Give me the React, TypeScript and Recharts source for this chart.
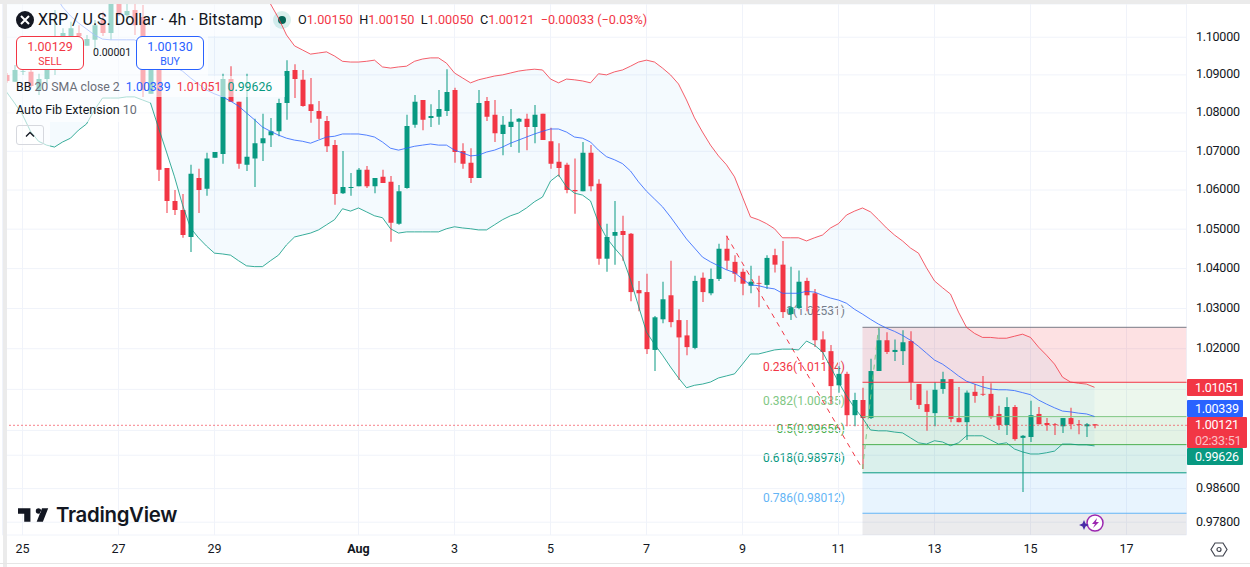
import React from 'react'
import {
  ComposedChart,
  Bar,
  Line,
  Area,
  XAxis,
  YAxis,
  CartesianGrid,
  Cell,
  ReferenceArea,
  ReferenceLine,
} from 'recharts'

const FONT = 'Roboto, "Noto Sans", sans-serif'
const RED = '#f23645'
const GREEN = '#089981'
const BLUE = '#2962ff'

const opens = [
  1.0900,1.0882,1.0908,1.0908,1.0860,1.0889,1.0939,1.0993,1.0998,1.1011,
  1.0977,1.0993,1.1046,1.1011,1.1111,1.1059,1.1073,1.1054,1.0850,1.0939,
  1.0657,1.0572,1.0549,1.0480,1.0631,1.0603,1.0683,1.0693,1.0889,1.0829,
  1.0665,1.0681,1.0721,1.0742,1.0752,1.0826,1.0913,1.0887,1.0823,1.0805,
  1.0779,1.0716,1.0592,1.0605,1.0610,1.0652,1.0610,1.0634,1.0621,1.0514,
  1.0605,1.0769,1.0834,1.0787,1.0790,1.0805,1.0860,1.0701,1.0670,1.0631,
  1.0831,1.0795,1.0745,1.0763,1.0777,1.0785,1.0763,1.0798,1.0726,1.0673,
  1.0665,1.0600,1.0597,1.0696,1.0616,1.0425,1.0483,1.0495,1.0488,1.0346,
  1.0341,1.0197,1.0273,1.0333,1.0271,1.0233,1.0202,1.0377,1.0338,1.0374,
  1.0450,1.0417,1.0392,1.0357,1.0364,1.0359,1.0434,1.0410,1.0286,1.0301,
  1.0369,1.0338,1.0223,1.0194,1.0110,1.0138,1.0037,1.0074,1.0030,1.0145,
  1.0221,1.0192,1.0194,1.0219,1.0113,1.0064,1.0042,1.0101,1.0125,1.0030,
  1.0020,1.0094,1.0089,1.0089,1.0040,1.0013,1.0057,0.9982,0.9984,1.0040,
  1.0018,1.0015,1.0010,1.0030,1.0015,1.0010,1.0015,
]
const highs = [
  1.0905,1.0926,1.0913,1.0913,1.0903,1.0939,1.1073,1.1024,1.1041,1.1032,
  1.1006,1.1046,1.1068,1.1105,1.1127,1.1089,1.1100,1.1086,1.0966,1.0961,
  1.0657,1.0600,1.0590,1.0665,1.0655,1.0696,1.0698,1.0903,1.0923,1.0829,
  1.0903,1.0785,1.0798,1.0787,1.0837,1.0939,1.0928,1.0913,1.0892,1.0831,
  1.0792,1.0729,1.0701,1.0644,1.0657,1.0662,1.0631,1.0652,1.0636,1.0613,
  1.0795,1.0847,1.0834,1.0823,1.0860,1.0915,1.0866,1.0721,1.0708,1.0860,
  1.0842,1.0834,1.0792,1.0810,1.0787,1.0798,1.0821,1.0798,1.0761,1.0721,
  1.0670,1.0681,1.0724,1.0716,1.0628,1.0514,1.0572,1.0534,1.0490,1.0369,
  1.0387,1.0281,1.0367,1.0420,1.0298,1.0271,1.0382,1.0390,1.0400,1.0463,
  1.0483,1.0434,1.0400,1.0407,1.0382,1.0434,1.0450,1.0470,1.0405,1.0395,
  1.0377,1.0349,1.0243,1.0209,1.0157,1.0143,1.0092,1.0104,1.0175,1.0251,
  1.0241,1.0223,1.0246,1.0243,1.0113,1.0097,1.0118,1.0143,1.0125,1.0106,
  1.0097,1.0113,1.0133,1.0115,1.0060,1.0081,1.0062,0.9989,1.0072,1.0057,
  1.0030,1.0018,1.0030,1.0055,1.0025,1.0018,1.0015,
]
const lows = [
  1.0879,1.0882,1.0900,1.0866,1.0847,1.0874,1.0900,1.0971,1.0988,1.0985,
  1.0977,1.0966,1.1003,1.0993,1.1057,1.1046,1.1006,1.0842,1.0850,1.0623,
  1.0541,1.0536,1.0478,1.0442,1.0541,1.0585,1.0683,1.0668,1.0829,1.0655,
  1.0649,1.0608,1.0675,1.0711,1.0739,1.0782,1.0839,1.0816,1.0774,1.0732,
  1.0698,1.0562,1.0590,1.0585,1.0610,1.0605,1.0592,1.0618,1.0468,1.0511,
  1.0603,1.0761,1.0755,1.0763,1.0769,1.0792,1.0670,1.0655,1.0618,1.0631,
  1.0779,1.0724,1.0690,1.0711,1.0696,1.0703,1.0721,1.0729,1.0655,1.0634,
  1.0592,1.0539,1.0597,1.0597,1.0410,1.0392,1.0410,1.0420,1.0318,1.0293,
  1.0187,1.0145,1.0263,1.0253,1.0123,1.0184,1.0199,1.0316,1.0333,1.0369,
  1.0397,1.0367,1.0333,1.0338,1.0303,1.0349,1.0390,1.0276,1.0271,1.0298,
  1.0293,1.0204,1.0172,1.0064,1.0092,1.0010,1.0010,0.9907,1.0028,1.0145,
  1.0187,1.0170,1.0160,1.0074,1.0052,0.9999,1.0010,1.0089,1.0020,1.0020,
  0.9977,1.0067,1.0084,1.0028,1.0001,0.9989,0.9975,0.9852,0.9972,1.0015,
  0.9999,0.9989,0.9994,1.0003,0.9991,0.9984,1.0005,
]
const closes = [
  1.0884,1.0913,1.0910,1.0871,1.0889,1.0913,1.0998,1.1011,1.1024,1.1003,
  1.0995,1.1032,1.1011,1.1089,1.1062,1.1070,1.1032,1.0860,1.0939,1.0652,
  1.0572,1.0549,1.0485,1.0642,1.0600,1.0681,1.0698,1.0889,1.0829,1.0668,
  1.0686,1.0721,1.0734,1.0752,1.0826,1.0910,1.0889,1.0818,1.0805,1.0785,
  1.0713,1.0590,1.0608,1.0608,1.0652,1.0610,1.0631,1.0618,1.0516,1.0597,
  1.0766,1.0829,1.0782,1.0792,1.0810,1.0855,1.0698,1.0668,1.0631,1.0826,
  1.0790,1.0747,1.0769,1.0777,1.0785,1.0763,1.0795,1.0729,1.0668,1.0657,
  1.0600,1.0597,1.0696,1.0610,1.0425,1.0480,1.0493,1.0485,1.0341,1.0338,
  1.0199,1.0278,1.0323,1.0266,1.0228,1.0204,1.0369,1.0341,1.0374,1.0450,
  1.0420,1.0387,1.0362,1.0367,1.0362,1.0427,1.0410,1.0291,1.0303,1.0367,
  1.0333,1.0221,1.0192,1.0108,1.0138,1.0037,1.0074,1.0030,1.0145,1.0221,
  1.0192,1.0197,1.0216,1.0118,1.0062,1.0045,1.0099,1.0125,1.0028,1.0020,
  1.0092,1.0084,1.0087,1.0032,1.0013,1.0057,0.9979,0.9987,1.0037,1.0015,
  1.0013,1.0013,1.0030,1.0015,1.0013,1.0015,1.00121,
]

// bollinger bands, the first ones run above the top of the pane
const bbUpper = [
  1.1249,1.1262,1.1268,1.1268,1.1268,1.1262,1.1262,1.1268,1.1276,1.1284,
  1.1290,1.1290,1.1295,1.1303,1.1312,1.1317,1.1317,1.1312,1.1312,1.1303,
  1.1295,1.1290,1.1284,1.1276,1.1262,1.1249,1.1235,1.1222,1.1208,1.1186,
  1.1168,1.1141,1.1113,1.1089,1.1051,1.1006,1.0977,1.0966,1.0955,1.0958,
  1.0961,1.0950,1.0936,1.0934,1.0934,1.0936,1.0939,1.0921,1.0918,1.0921,
  1.0923,1.0936,1.0942,1.0945,1.0945,1.0931,1.0905,1.0892,1.0879,1.0887,
  1.0892,1.0897,1.0900,1.0905,1.0910,1.0913,1.0915,1.0913,1.0889,1.0879,
  1.0889,1.0887,1.0884,1.0879,1.0903,1.0900,1.0908,1.0913,1.0923,1.0934,
  1.0939,1.0934,1.0918,1.0900,1.0876,1.0834,1.0787,1.0750,1.0716,1.0688,
  1.0665,1.0634,1.0582,1.0531,1.0524,1.0514,1.0501,1.0478,1.0478,1.0478,
  1.0470,1.0478,1.0485,1.0503,1.0514,1.0536,1.0546,1.0554,1.0544,1.0524,
  1.0503,1.0485,1.0470,1.0452,1.0439,1.0402,1.0369,1.0352,1.0336,1.0291,
  1.0253,1.0238,1.0228,1.0228,1.0226,1.0226,1.0231,1.0236,1.0228,1.0204,
  1.0184,1.0162,1.0130,1.0118,1.0115,1.0113,1.01051,
]
const bbMiddle = [
  1.1208,1.1203,1.1195,1.1186,1.1175,1.1148,1.1116,1.1081,1.1057,1.1038,
  1.1022,1.1006,1.0995,1.0993,1.0993,1.0993,1.0993,1.0982,1.0966,1.0950,
  1.0934,1.0921,1.0910,1.0892,1.0876,1.0860,1.0850,1.0842,1.0831,1.0818,
  1.0800,1.0782,1.0763,1.0752,1.0742,1.0734,1.0729,1.0726,1.0721,1.0729,
  1.0737,1.0739,1.0745,1.0745,1.0745,1.0742,1.0737,1.0724,1.0708,1.0703,
  1.0708,1.0713,1.0716,1.0719,1.0716,1.0716,1.0703,1.0696,1.0688,1.0690,
  1.0698,1.0703,1.0711,1.0721,1.0729,1.0737,1.0745,1.0752,1.0758,1.0758,
  1.0750,1.0737,1.0734,1.0724,1.0703,1.0686,1.0678,1.0668,1.0649,1.0621,
  1.0597,1.0577,1.0557,1.0531,1.0503,1.0475,1.0452,1.0429,1.0417,1.0407,
  1.0397,1.0390,1.0374,1.0359,1.0357,1.0352,1.0349,1.0338,1.0338,1.0338,
  1.0343,1.0341,1.0333,1.0326,1.0321,1.0313,1.0298,1.0286,1.0273,1.0261,
  1.0251,1.0243,1.0233,1.0221,1.0206,1.0189,1.0172,1.0162,1.0148,1.0133,
  1.0120,1.0113,1.0106,1.0101,1.0099,1.0099,1.0097,1.0092,1.0087,1.0074,
  1.0064,1.0055,1.0047,1.0045,1.0042,1.0040,1.00339,
]
const bbLower = [
  1.0855,1.0826,1.0795,1.0752,1.0726,1.0716,1.0711,1.0724,1.0734,1.0755,
  1.0771,1.0808,1.0839,1.0839,1.0839,1.0842,1.0842,1.0834,1.0826,1.0761,
  1.0698,1.0634,1.0562,1.0503,1.0478,1.0457,1.0439,1.0437,1.0434,1.0420,
  1.0407,1.0405,1.0405,1.0420,1.0434,1.0460,1.0480,1.0485,1.0490,1.0498,
  1.0511,1.0524,1.0552,1.0546,1.0554,1.0544,1.0534,1.0529,1.0501,1.0490,
  1.0493,1.0493,1.0493,1.0493,1.0493,1.0501,1.0506,1.0503,1.0501,1.0498,
  1.0498,1.0511,1.0524,1.0534,1.0541,1.0554,1.0570,1.0582,1.0623,1.0639,
  1.0608,1.0592,1.0587,1.0572,1.0516,1.0478,1.0452,1.0429,1.0372,1.0306,
  1.0241,1.0211,1.0184,1.0155,1.0128,1.0104,1.0110,1.0113,1.0118,1.0128,
  1.0133,1.0138,1.0162,1.0187,1.0187,1.0192,1.0197,1.0199,1.0199,1.0197,
  1.0219,1.0209,1.0192,1.0155,1.0118,1.0084,1.0055,1.0030,1.0001,0.9999,
  0.9999,0.9996,0.9994,0.9982,0.9970,0.9967,0.9975,0.9972,0.9963,0.9970,
  0.9987,0.9987,0.9987,0.9977,0.9967,0.9970,0.9955,0.9948,0.9943,0.9943,
  0.9946,0.9950,0.9967,0.9967,0.9965,0.9965,0.99626,
]

const dateLabels: Record<number, string> = {
  2: '25', 14: '27', 26: '29', 44: 'Aug', 56: '3', 68: '5', 80: '7',
  92: '9', 104: '11', 116: '13', 128: '15', 140: '17',
}
const priceTicks = [1.1, 1.09, 1.08, 1.07, 1.06, 1.05, 1.04, 1.03, 1.02, 1.01, 1.0, 0.994, 0.986, 0.978]
// these three sit behind the price badges, only their grid lines show
const hiddenPriceLabels = [1.01, 1.0, 0.994]

const fibRatios = ['0', '0.236', '0.382', '0.5', '0.618', '0.786']
const fibLevels = [1.02531, 1.01174, 1.00335, 0.99656, 0.98978, 0.98012]
const fibColors = ['#787b86', '#f23645', '#81c784', '#4caf50', '#089981', '#64b5f6']
const fibZoneColors = ['#f23645', '#81c784', '#4caf50', '#089981', '#64b5f6', '#787b86']
const fibLabelTops = [303, 359, 393, 421, 450, 490]

const SLOTS = 148
const Y_MIN = 0.97497
const Y_MAX = 1.10889

const rows = Array.from({ length: SLOTS }, (_, i) =>
  i < opens.length
    ? {
        i,
        wick: [lows[i], highs[i]],
        body: [Math.min(opens[i], closes[i]), Math.max(opens[i], closes[i])],
        upper: bbUpper[i],
        middle: bbMiddle[i],
        lower: bbLower[i],
        band: [bbLower[i], bbUpper[i]],
      }
    : { i },
)

const candleColor = (i: number) => (closes[i] >= opens[i] ? GREEN : RED)

function DateTick({ x, payload }: any) {
  const label = dateLabels[payload.value]
  if (!label) return null
  return (
    <text
      x={x}
      y={553}
      textAnchor="middle"
      fontFamily={FONT}
      fontSize={12.5}
      fontWeight={label === 'Aug' ? 700 : 400}
      fill="#131722"
    >
      {label}
    </text>
  )
}

const abs = (left: number, top: number, extra: React.CSSProperties = {}): React.CSSProperties => ({
  position: 'absolute',
  left,
  top,
  ...extra,
})

function Badge({ top, height, color, width = 56, children }: any) {
  return (
    <div
      style={abs(1187, top, {
        width,
        height,
        background: color,
        color: '#fff',
        fontSize: 12.5,
        letterSpacing: '-0.25px',
        lineHeight: '17px',
        paddingLeft: 8,
        boxSizing: 'border-box',
        borderRadius: '1px',
        overflow: 'hidden',
      })}
    >
      {children}
    </div>
  )
}

function TradeBox({ left, color, price, side }: any) {
  return (
    <div
      style={abs(left, 36, {
        width: 68,
        height: 34,
        boxSizing: 'border-box',
        border: `1px solid ${color}`,
        borderRadius: 6,
        background: '#fff',
        color,
        textAlign: 'center',
      })}
    >
      <div style={{ fontSize: 12.5, lineHeight: '17px', marginTop: 1 }}>{price}</div>
      <div style={{ fontSize: 10.5, lineHeight: '13px' }}>{side}</div>
    </div>
  )
}

export default function App() {
  return (
    <div style={{ position: 'fixed', left: 0, top: 0, width: 1250, height: 567, background: '#fff', overflow: 'hidden', fontFamily: FONT, color: '#131722' }}>
      {/* status dot sits behind the pane */}
      <div style={abs(273, 11, { width: 18, height: 18, borderRadius: 9, background: 'rgba(8,153,129,0.15)' })} />
      <div style={abs(278, 16, { width: 8, height: 8, borderRadius: 4, background: '#056656' })} />

      {/* fib labels stay under the candles */}
      {fibRatios.map((r, k) => (
        <div
          key={r}
          style={abs(645, fibLabelTops[k], {
            width: 200,
            textAlign: 'right',
            fontSize: 12,
            lineHeight: '16px',
            color: fibColors[k],
          })}
        >
          {r}({fibLevels[k].toFixed(5)})
        </div>
      ))}

      <div style={abs(0, 0)}>
        <ComposedChart
          width={1250}
          height={567}
          data={rows}
          margin={{ top: 4, right: 0, bottom: 4, left: 2.5 }}
          barGap={0}
          barCategoryGap={0}
        >
          <CartesianGrid xAxisId="main" stroke="#f0f3fa" strokeWidth={1} />
          <XAxis
            xAxisId="main"
            dataKey="i"
            type="category"
            height={28}
            ticks={Object.keys(dateLabels).map(Number)}
            interval={0}
            axisLine={false}
            tickLine={false}
            tick={<DateTick />}
          />
          <XAxis xAxisId="body" dataKey="i" type="category" hide />
          <XAxis xAxisId="num" dataKey="i" type="number" domain={[-0.5, SLOTS - 0.5]} allowDataOverflow hide />
          <YAxis
            orientation="right"
            scale="log"
            domain={[Y_MIN, Y_MAX]}
            allowDataOverflow
            ticks={priceTicks}
            interval={0}
            width={63.5}
            axisLine={false}
            tickLine={false}
            tickSize={0}
            tickMargin={9.5}
            tickFormatter={(v: number) => (hiddenPriceLabels.includes(v) ? '' : v.toFixed(5))}
            tick={{ fontSize: 12.5, fill: '#131722', fontFamily: FONT, dy: -1, letterSpacing: -0.25 }}
          />

          {fibLevels.map((lvl, k) => (
            <ReferenceArea
              key={`zone-${k}`}
              xAxisId="num"
              x1={107}
              x2={SLOTS - 0.5}
              y1={lvl}
              y2={k + 1 < fibLevels.length ? fibLevels[k + 1] : Y_MIN}
              fill={fibZoneColors[k]}
              fillOpacity={0.15}
              stroke="none"
              ifOverflow="hidden"
            />
          ))}
          {fibLevels.map((lvl, k) => (
            <ReferenceLine
              key={`lvl-${k}`}
              xAxisId="num"
              segment={[{ x: 107, y: lvl }, { x: SLOTS - 0.5, y: lvl }]}
              stroke={fibColors[k]}
              strokeWidth={1}
            />
          ))}
          <ReferenceLine
            xAxisId="num"
            segment={[{ x: 90, y: 1.0483 }, { x: 107, y: 0.9907 }]}
            stroke={RED}
            strokeWidth={1}
            strokeDasharray="5 5"
          />
          <ReferenceLine
            xAxisId="num"
            segment={[{ x: 107, y: 0.9907 }, { x: 109, y: 1.0251 }]}
            stroke="#81c784"
            strokeWidth={1}
            strokeDasharray="5 5"
          />

          <Area xAxisId="main" dataKey="band" stroke="none" fill="#2196f3" fillOpacity={0.05} isAnimationActive={false} dot={false} activeDot={false} />
          <Line xAxisId="main" dataKey="upper" stroke={RED} strokeOpacity={0.8} strokeWidth={1} dot={false} activeDot={false} isAnimationActive={false} />
          <Line xAxisId="main" dataKey="middle" stroke={BLUE} strokeOpacity={0.8} strokeWidth={1} dot={false} activeDot={false} isAnimationActive={false} />
          <Line xAxisId="main" dataKey="lower" stroke={GREEN} strokeOpacity={0.8} strokeWidth={1} dot={false} activeDot={false} isAnimationActive={false} />

          <ReferenceLine y={1.00121} stroke={RED} strokeWidth={1.2} strokeDasharray="1 3" xAxisId="main" />

          <Bar xAxisId="main" dataKey="wick" barSize={1} isAnimationActive={false}>
            {rows.map((r) => (
              <Cell key={r.i} fill={candleColor(r.i)} />
            ))}
          </Bar>
          <Bar xAxisId="body" dataKey="body" barSize={5} isAnimationActive={false}>
            {rows.map((r) => (
              <Cell key={r.i} fill={candleColor(r.i)} />
            ))}
          </Bar>
        </ComposedChart>
      </div>

      {/* frame */}
      <div style={abs(3, 0, { width: 4, height: 567, background: '#ebebeb' })} />
      <div style={abs(0, 0, { width: 1250, height: 4, background: '#ebebeb' })} />
      <div style={abs(0, 563, { width: 1250, height: 1, background: '#e6e6e6' })} />

      {/* legend veil */}
      <div style={abs(7, 4, { width: 263, height: 32, background: 'rgba(255,255,255,0.6)' })} />
      <div style={abs(7, 36, { width: 201, height: 40, background: 'rgba(255,255,255,0.6)' })} />
      <div style={abs(7, 76, { width: 278, height: 21, background: 'rgba(255,255,255,0.6)' })} />
      <div style={abs(7, 97, { width: 143, height: 25, background: 'rgba(255,255,255,0.6)' })} />
      <div style={abs(7, 122, { width: 43, height: 26, background: 'rgba(255,255,255,0.6)' })} />

      {/* legend */}
      <div style={abs(16, 11, { width: 18, height: 18, borderRadius: 9, background: '#131722' })}>
        <svg width={18} height={18}>
          <path d="M5 5 L13 13 M13 5 L5 13" stroke="#fff" strokeWidth={2} />
        </svg>
      </div>
      <div style={abs(38, 11, { fontSize: 16, lineHeight: '18px', whiteSpace: 'nowrap' })}>
        XRP / U.S. Dollar · 4h · Bitstamp
      </div>
      <div style={abs(298, 12, { fontSize: 12.7, lineHeight: '16px', whiteSpace: 'nowrap', color: RED })}>
        <span style={{ color: '#131722' }}>O</span>1.00150&nbsp;&nbsp;<span style={{ color: '#131722' }}>H</span>1.00150&nbsp;&nbsp;
        <span style={{ color: '#131722' }}>L</span>1.00050&nbsp;&nbsp;<span style={{ color: '#131722' }}>C</span>1.00121&nbsp;&nbsp;−0.00033 (−0.03%)
      </div>
      <TradeBox left={16} color={RED} price="1.00129" side="SELL" />
      <TradeBox left={136} color={BLUE} price="1.00130" side="BUY" />
      <div style={abs(93, 46, { fontSize: 10.5, lineHeight: '13px' })}>0.00001</div>
      <div style={abs(16, 79, { fontSize: 12.3, lineHeight: '16px', whiteSpace: 'nowrap', color: '#6a6d78' })}>
        <span style={{ color: '#131722' }}>BB</span> 20 SMA close 2&nbsp;&nbsp;<span style={{ color: BLUE }}>1.00339</span>&nbsp;&nbsp;
        <span style={{ color: RED }}>1.01051</span>&nbsp;&nbsp;<span style={{ color: GREEN }}>0.99626</span>
      </div>
      <div style={abs(16, 102, { fontSize: 12.5, lineHeight: '16px', whiteSpace: 'nowrap', color: '#6a6d78' })}>
        <span style={{ color: '#131722' }}>Auto Fib Extension</span> 10
      </div>
      <div style={abs(16, 125, { width: 28, height: 20, boxSizing: 'border-box', border: '1px solid #d6d8de', borderRadius: 3 })}>
        <svg width={26} height={18}>
          <path d="M9 10.5 L13 6.5 L17 10.5" fill="none" stroke="#131722" strokeWidth={1.3} />
        </svg>
      </div>

      {/* price badges */}
      <Badge top={379} height={17} color={RED}>1.01051</Badge>
      <Badge top={400} height={17} color={BLUE}>1.00339</Badge>
      <Badge top={417} height={31} color={RED} width={60}>
        <div style={{ height: 16, lineHeight: '16px' }}>1.00121</div>
        <div style={{ height: 15, lineHeight: '15px', color: 'rgba(255,255,255,0.7)' }}>02:33:51</div>
      </Badge>
      <Badge top={448} height={17} color={GREEN}>0.99626</Badge>

      {/* logo */}
      <svg style={abs(18, 505)} width={32} height={20} viewBox="0 4 36 19">
        <path d="M14 6H0v6h7v9h7V6zm14 15h-7l6-15h7l-6 15zm-5-9a3 3 0 1 0 0-6 3 3 0 0 0 0 6z" fill="#131722" />
      </svg>
      <div style={abs(56, 502, { fontFamily: 'Inter, Roboto, sans-serif', fontWeight: 600, fontSize: 20.4, lineHeight: '26px', letterSpacing: '-0.3px' })}>
        TradingView
      </div>

      {/* flash icon */}
      <svg style={abs(1078, 510)} width={28} height={26}>
        <circle cx={17} cy={13} r={8} fill="#fff" stroke="#9c27b0" strokeWidth={1.5} />
        <path d="M19 8 L14 14 H17 L15 18 L21 12 H18 Z" fill="#9c27b0" />
        <path d="M6 10 L7.5 13.5 L11 15 L7.5 16.5 L6 20 L4.5 16.5 L1 15 L4.5 13.5 Z" fill="#4a2ca8" />
      </svg>

      {/* settings */}
      <svg style={abs(1210, 541)} width={18} height={17}>
        <path d="M5 2 H13 L17 8.5 L13 15 H5 L1 8.5 Z" fill="none" stroke="#434651" strokeWidth={1.2} />
        <circle cx={9} cy={8.5} r={2} fill="none" stroke="#434651" strokeWidth={1.2} />
      </svg>
    </div>
  )
}
